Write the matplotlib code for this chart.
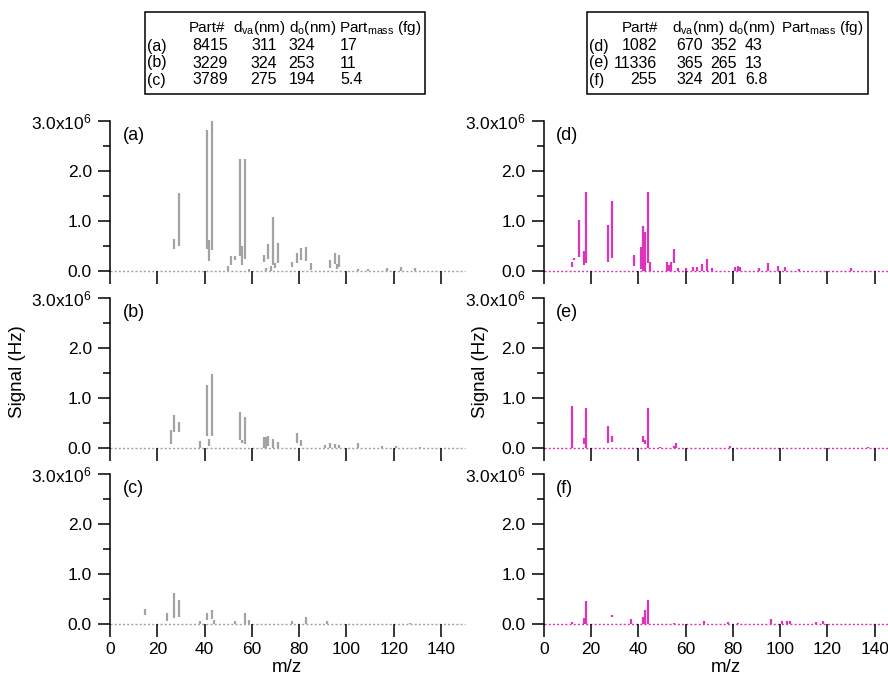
import matplotlib
matplotlib.use('Agg')
import matplotlib.pyplot as plt
from matplotlib.patches import Rectangle
from matplotlib.ticker import MultipleLocator, FixedLocator

plt.rcParams['font.family'] = ['Liberation Sans', 'DejaVu Sans']
plt.rcParams['mathtext.default'] = 'regular'

GRAY = '#a3a3a3'
MAGENTA = '#dc34ba'

# stick spectra: m/z, lower end, upper end of each stick (x1e6 Hz)
a_mz = [27, 29, 41, 42, 43, 50, 51, 53, 55, 56, 57, 59, 65, 66, 67, 68, 69, 70, 71, 77, 79, 81, 83, 85,
        93, 95, 96, 97, 105, 109, 117, 123, 129]
a_lo = [0.43, 0.49, 0.43, 0.19, 0.42, 0.0, 0.12, 0.22, 0.30, 0.12, 0.23, 0.0, 0.17, 0.0, 0.23, 0.0, 0.12, 0.05, 0.15,
        0.08, 0.16, 0.22, 0.19, 0.02, 0.05, 0.14, 0.04, 0.07, 0.0, 0.0, 0.0, 0.0, 0.0]
a_hi = [0.63, 1.55, 2.82, 0.62, 3.0, 0.09, 0.30, 0.30, 2.25, 0.49, 2.25, 0.03, 0.32, 0.05, 0.54, 0.10, 1.07, 0.16, 0.55,
        0.17, 0.35, 0.45, 0.47, 0.15, 0.21, 0.35, 0.14, 0.32, 0.04, 0.04, 0.05, 0.08, 0.05]

b_mz = [26, 27, 29, 38, 41, 42, 43, 55, 56, 57, 65, 66, 67, 69, 71, 79, 81, 91, 93, 95, 97, 105, 115, 121, 131]
b_lo = [0.09, 0.32, 0.32, 0.0, 0.25, 0.05, 0.25, 0.17, 0.10, 0.09, 0.0, 0.0, 0.05, 0.0, 0.0, 0.10, 0.05,
        0.0, 0.0, 0.0, 0.0, 0.0, 0.0, 0.0, 0.0]
b_hi = [0.37, 0.66, 0.52, 0.14, 1.27, 0.18, 1.48, 0.72, 0.17, 0.63, 0.22, 0.22, 0.25, 0.18, 0.12, 0.30, 0.16,
        0.06, 0.10, 0.08, 0.06, 0.10, 0.05, 0.05, 0.03]

c_mz = [15, 24, 27, 29, 38, 41, 43, 44, 53, 57, 59, 77, 83, 92, 127]
c_lo = [0.18, 0.06, 0.13, 0.15, 0.0, 0.09, 0.11, 0.0, 0.0, 0.0, 0.0, 0.0, 0.0, 0.0, 0.0]
c_hi = [0.30, 0.22, 0.63, 0.48, 0.07, 0.22, 0.28, 0.08, 0.07, 0.22, 0.08, 0.06, 0.15, 0.07, 0.02]

d_mz = [12, 13, 15, 17, 18, 27, 29, 38, 41, 42, 43, 44, 45, 52, 53, 54, 55, 57, 60, 63, 65, 67, 69, 71,
        81, 82, 83, 91, 95, 99, 102, 108, 130]
d_lo = [0.07, 0.22, 0.27, 0.11, 0.15, 0.18, 0.25, 0.10, 0.03, 0.0, 0.0, 0.15, 0.0, 0.0, 0.0, 0.0, 0.15,
        0.0, 0.0, 0.0, 0.0, 0.0, 0.0, 0.0, 0.0, 0.0, 0.0, 0.0, 0.0, 0.0, 0.0, 0.0, 0.0]
d_hi = [0.17, 0.25, 1.02, 0.40, 1.57, 0.92, 1.39, 0.31, 0.47, 0.89, 0.77, 1.57, 0.17, 0.17, 0.12, 0.17, 0.43,
        0.05, 0.05, 0.07, 0.08, 0.13, 0.23, 0.05, 0.08, 0.10, 0.08, 0.05, 0.15, 0.10, 0.07, 0.04, 0.06]

e_mz = [12, 17, 18, 27, 29, 42, 43, 44, 49, 55, 56, 79, 137]
e_lo = [0.0, 0.09, 0.0, 0.10, 0.12, 0.12, 0.09, 0.0, 0.0, 0.0, 0.0, 0.0, 0.0]
e_hi = [0.85, 0.21, 0.81, 0.44, 0.24, 0.24, 0.17, 0.81, 0.03, 0.05, 0.10, 0.05, 0.02]

f_mz = [12, 17, 18, 29, 37, 42, 43, 44, 55, 68, 78, 82, 96, 101, 103, 104, 115, 118]
f_lo = [0.0, 0.0, 0.0, 0.15, 0.0, 0.0, 0.0, 0.0, 0.0, 0.0, 0.0, 0.0, 0.0, 0.0, 0.0, 0.0, 0.0, 0.0]
f_hi = [0.05, 0.13, 0.47, 0.18, 0.10, 0.14, 0.28, 0.48, 0.03, 0.06, 0.04, 0.03, 0.11, 0.06, 0.06, 0.06, 0.05, 0.06]

panel_labels = ['(a)', '(b)', '(c)', '(d)', '(e)', '(f)']

# table contents
tab_left = [('(a)', '8415', '311', '324', '17'),
            ('(b)', '3229', '324', '253', '11'),
            ('(c)', '3789', '275', '194', '5.4')]
tab_right = [('(d)', '1082', '670', '352', '43'),
             ('(e)', '11336', '365', '265', '13'),
             ('(f)', '255', '324', '201', '6.8')]

W, H = 888, 688
fig = plt.figure(figsize=(W / 100, H / 100), dpi=100)


def px(x, y):
    return x / W, 1 - y / H


bottoms = [271, 448, 624]
columns = [
    (110, 354.6, 150.0, GRAY, [(a_mz, a_lo, a_hi), (b_mz, b_lo, b_hi), (c_mz, c_lo, c_hi)]),
    (543.7, W - 543.7, (W - 543.7) / 2.364, MAGENTA, [(d_mz, d_lo, d_hi), (e_mz, e_lo, e_hi), (f_mz, f_lo, f_hi)]),
]

k = 0
for left, width, xmax, color, data in columns:
    for row, (mz, lo, hi) in enumerate(data):
        ax = fig.add_axes([left / W, 1 - bottoms[row] / H, width / W, 150 / H])
        ax.axhline(0, color=color, lw=1.0, ls=(0, (1.5, 1.5)), clip_on=False, zorder=1)
        ax.vlines(mz, [v * 1e6 for v in lo], [v * 1e6 for v in hi], color=color, lw=1.6, zorder=2)
        ax.set_xlim(0, xmax)
        ax.set_ylim(0, 3.0e6)
        for s in ['top', 'right', 'bottom']:
            ax.spines[s].set_visible(False)
        ax.spines['left'].set_linewidth(1.1)
        ax.xaxis.set_major_locator(MultipleLocator(20))
        ax.yaxis.set_major_locator(FixedLocator([0, 1e6, 2e6, 3e6]))
        ax.yaxis.set_minor_locator(MultipleLocator(0.5e6))
        ax.set_yticklabels(['0.0', '1.0', '2.0', '3.0x10$^{6}$'])
        ax.tick_params(axis='both', which='major', direction='out', length=9, width=1.1, labelsize=12.5, pad=4)
        ax.tick_params(axis='y', which='minor', direction='out', length=5, width=1.1)
        ax.tick_params(axis='x', labelbottom=(row == 2))
        ax.text(0.035, 0.905, panel_labels[k], transform=ax.transAxes, fontsize=13, va='center', ha='left')
        k += 1

# axis titles
fig.text(*px(18, 372), 'Signal (Hz)', rotation=90, ha='center', va='center', fontsize=13.5)
fig.text(*px(480, 372), 'Signal (Hz)', rotation=90, ha='center', va='center', fontsize=13.5)
fig.text(*px(287, 668), 'm/z', ha='center', va='center', fontsize=13.5)
fig.text(*px(726, 668), 'm/z', ha='center', va='center', fontsize=13.5)


def draw_table(box, rows, head_x, cols):
    x0, y0, x1, y1 = box
    fig.patches.append(Rectangle((x0 / W, 1 - y1 / H), (x1 - x0) / W, (y1 - y0) / H,
                                 transform=fig.transFigure, fill=False, lw=1.1, ec='black'))
    heads = ['Part#', 'd$_{va}$(nm)', 'd$_{o}$(nm)', 'Part$_{mass}$ (fg)']
    for hx, h in zip(head_x, heads):
        fig.text(*px(hx, 28), h, ha='left', va='center', fontsize=11)
    for r, vals in enumerate(rows):
        y = 46 + 17 * r
        for (cx, ha), v in zip(cols, vals):
            fig.text(*px(cx, y), v, ha=ha, va='center', fontsize=11.5)


draw_table((145, 12, 425, 94), tab_left, [189, 233, 289, 339],
           [(147, 'left'), (228, 'right'), (277, 'right'), (315, 'right'), (340, 'left')])
draw_table((587, 12, 868, 94), tab_right, [622, 672, 728, 781],
           [(589, 'left'), (657, 'right'), (703, 'right'), (737, 'right'), (745, 'left')])

fig.savefig('out.png', dpi=100)
